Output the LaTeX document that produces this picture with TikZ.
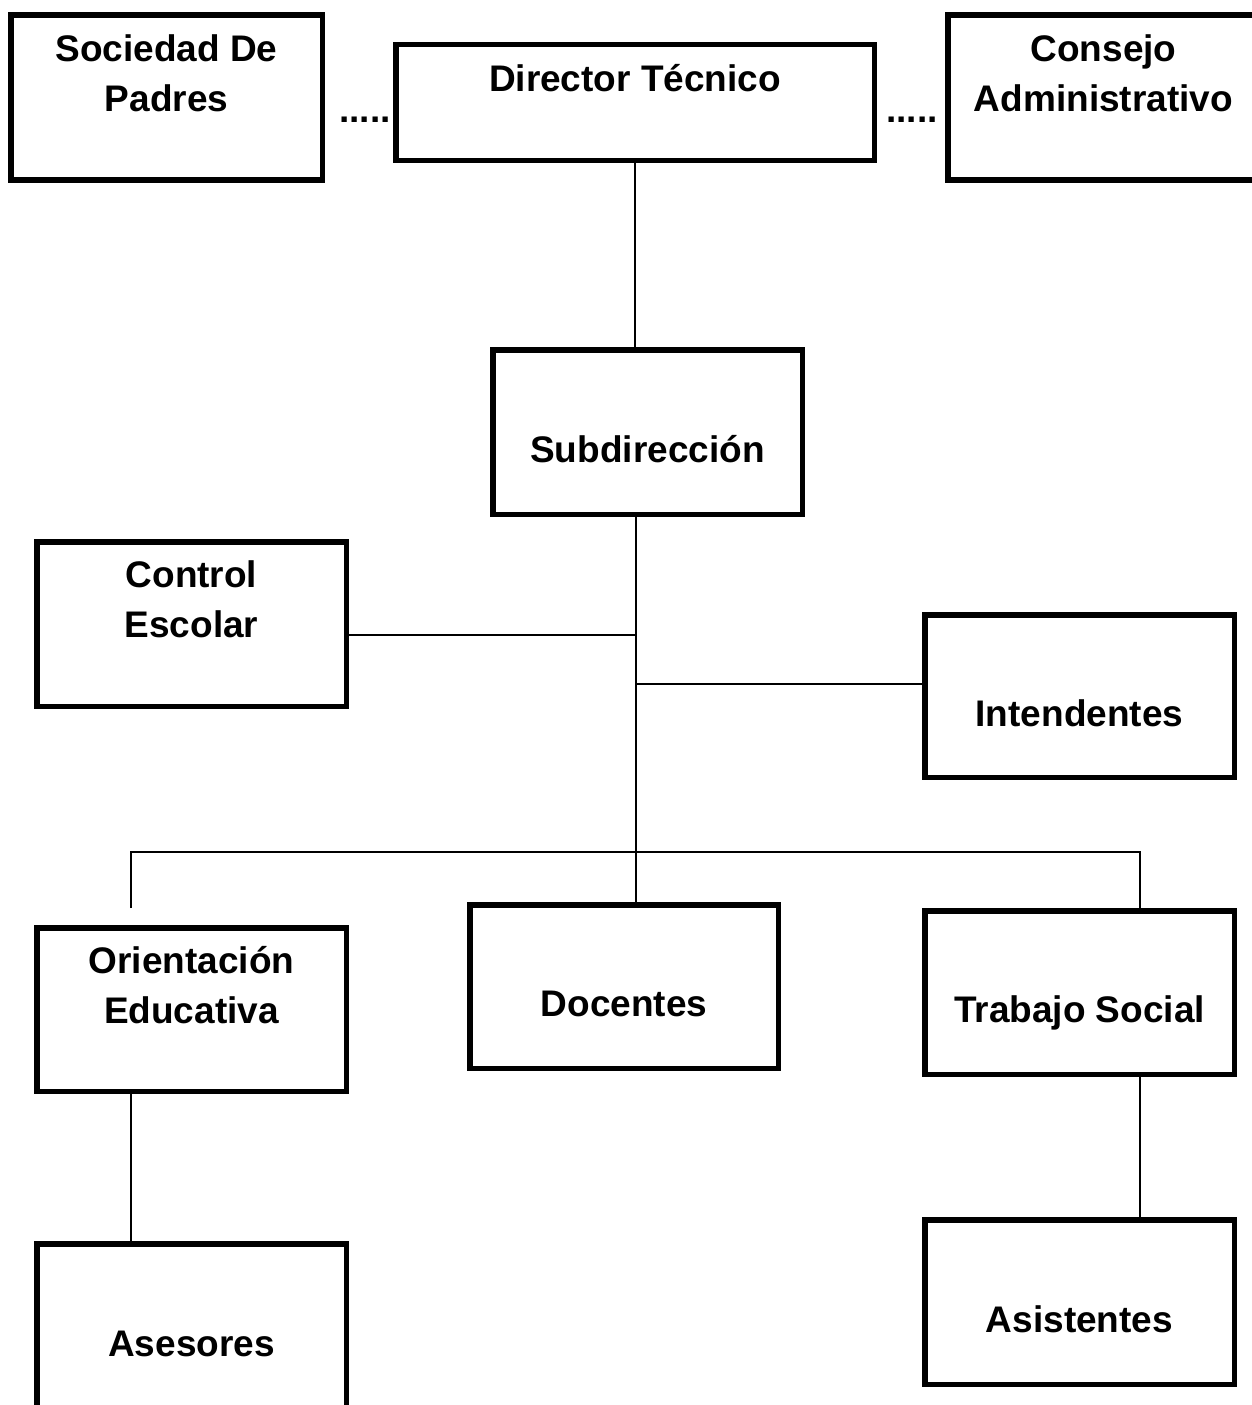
\documentclass[tikz,border=0pt]{standalone}
\usepackage{fontspec}
\setmainfont{Liberation Sans}
\tikzset{
    box/.style={rectangle, draw, line width=5.5pt, fill=white, align=center,
        minimum width=309.5pt, minimum height=164.5pt},
    oneline/.style={text height=60.4pt, text depth=0pt},
    twoline/.style={text height=27.5pt, text depth=0pt},
    link/.style={line width=2pt},
    dots/.style={inner sep=0pt, anchor=base},
}
\begin{document}
\begin{tikzpicture}[
            x=1pt, y=-1pt,
            font=\fontsize{37}{50}\selectfont\bfseries,
            ]
            \useasboundingbox (0,0) rectangle (1252,1405);
            \clip (0,0) rectangle (1252,1405);

            % top row
            \node (soc) [box, twoline, minimum width=311.5pt] at (166.5,97.5) {Sociedad De\\Padres};
            \node (dir) [box, minimum width=478.5pt, minimum height=115.5pt, text height=0pt, text depth=22.6pt] at (635,102.5) {Director Técnico};
            \node (con) [box, twoline, minimum width=311.5pt] at (1103.5,97.5) {Consejo\\Administrativo};
            \node (dotsL) [dots] at (365,122) {.....};
            \node (dotsR) [dots] at (912,122) {.....};

            % middle
            \node (sub) [box, oneline] at (647.5,432) {Subdirección};
            \node (ctl) [box, twoline] at (191.5,624) {Control\\Escolar};
            \node (int) [box, oneline, minimum height=162.5pt] at (1079.5,696) {Intendentes};

            % bottom rows
            \node (ori) [box, twoline, minimum height=163.5pt] at (191.5,1009.5) {Orientación\\Educativa};
            \node (doc) [box, oneline, minimum width=308.5pt, minimum height=163.5pt] at (624,986.5) {Docentes};
            \node (tra) [box, oneline, minimum height=163.5pt] at (1079.5,992.5) {Trabajo Social};
            \node (ase) [box, oneline] at (191.5,1326) {Asesores};
            \node (asi) [box, oneline] at (1079.5,1302) {Asistentes};

            % connectors
            \coordinate (jC) at (636,635);
            \coordinate (jI) at (636,684);
            \coordinate (trunk) at (636,852);
            \coordinate (barR) at (1140,852);
            \coordinate (oriEnd) at (131,908);

            \draw[link] (dir.south) -- (dir.south |- sub.north);
            \draw[link] (trunk |- sub.south) -- (trunk |- doc.north);
            \draw[link] (jC -| ctl.east) -- (jC);
            \draw[link] (jI) -- (jI -| int.west);
            \draw[link] (oriEnd) |- (barR) -- (barR |- tra.north);
            \draw[link] (oriEnd |- ori.south) -- (oriEnd |- ase.north);
            \draw[link] (barR |- tra.south) -- (barR |- asi.north);
\end{tikzpicture}
\end{document}
